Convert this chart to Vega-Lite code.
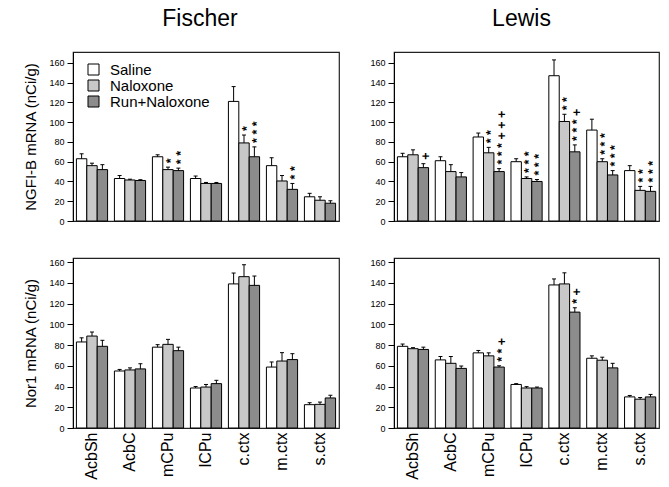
{
  "$schema": "https://vega.github.io/schema/vega-lite/v6.json",
  "padding": {"left": 23, "top": 7, "right": 5, "bottom": 0},
  "background": "white",
  "config": {
    "font": "Liberation Sans",
    "view": {"stroke": "#222222", "strokeWidth": 1.2},
    "title": {"fontSize": 23, "fontWeight": "normal", "color": "black", "offset": 21, "anchor": "middle"},
    "axis": {"labelColor": "black", "titleColor": "black", "domainColor": "black", "tickColor": "black", "grid": false}
  },
  "datasets": {
    "all": [
      {"p":"FN","r":"AcbSh","g":"Saline","v":63,"e":68,"s":""},
      {"p":"FN","r":"AcbSh","g":"Naloxone","v":56,"e":58.5,"s":""},
      {"p":"FN","r":"AcbSh","g":"Run+Naloxone","v":52,"e":57,"s":""},
      {"p":"FN","r":"AcbC","g":"Saline","v":43,"e":46,"s":""},
      {"p":"FN","r":"AcbC","g":"Naloxone","v":41.5,"e":42.3,"s":""},
      {"p":"FN","r":"AcbC","g":"Run+Naloxone","v":41,"e":41.8,"s":""},
      {"p":"FN","r":"mCPu","g":"Saline","v":65,"e":67,"s":""},
      {"p":"FN","r":"mCPu","g":"Naloxone","v":52,"e":54.5,"s":"*"},
      {"p":"FN","r":"mCPu","g":"Run+Naloxone","v":51,"e":53.5,"s":"* *"},
      {"p":"FN","r":"lCPu","g":"Saline","v":43,"e":45.5,"s":""},
      {"p":"FN","r":"lCPu","g":"Naloxone","v":38,"e":39,"s":""},
      {"p":"FN","r":"lCPu","g":"Run+Naloxone","v":38,"e":39,"s":""},
      {"p":"FN","r":"c.ctx","g":"Saline","v":121,"e":136,"s":""},
      {"p":"FN","r":"c.ctx","g":"Naloxone","v":79,"e":87,"s":"*"},
      {"p":"FN","r":"c.ctx","g":"Run+Naloxone","v":65,"e":75,"s":"* * *"},
      {"p":"FN","r":"m.ctx","g":"Saline","v":56,"e":64,"s":""},
      {"p":"FN","r":"m.ctx","g":"Naloxone","v":40.5,"e":46,"s":""},
      {"p":"FN","r":"m.ctx","g":"Run+Naloxone","v":32,"e":38,"s":"* *"},
      {"p":"FN","r":"s.ctx","g":"Saline","v":24.5,"e":28,"s":""},
      {"p":"FN","r":"s.ctx","g":"Naloxone","v":21,"e":24.5,"s":""},
      {"p":"FN","r":"s.ctx","g":"Run+Naloxone","v":18,"e":20.5,"s":""},

      {"p":"LN","r":"AcbSh","g":"Saline","v":65,"e":68.5,"s":""},
      {"p":"LN","r":"AcbSh","g":"Naloxone","v":67,"e":72,"s":""},
      {"p":"LN","r":"AcbSh","g":"Run+Naloxone","v":54,"e":58,"s":"+"},
      {"p":"LN","r":"AcbC","g":"Saline","v":61,"e":65,"s":""},
      {"p":"LN","r":"AcbC","g":"Naloxone","v":50,"e":57,"s":""},
      {"p":"LN","r":"AcbC","g":"Run+Naloxone","v":44.6,"e":49,"s":""},
      {"p":"LN","r":"mCPu","g":"Saline","v":85,"e":89,"s":""},
      {"p":"LN","r":"mCPu","g":"Naloxone","v":69,"e":74.5,"s":"* *"},
      {"p":"LN","r":"mCPu","g":"Run+Naloxone","v":50,"e":53,"s":"* * * + + +"},
      {"p":"LN","r":"lCPu","g":"Saline","v":60,"e":63,"s":""},
      {"p":"LN","r":"lCPu","g":"Naloxone","v":43,"e":44.6,"s":"* * *"},
      {"p":"LN","r":"lCPu","g":"Run+Naloxone","v":40,"e":42,"s":"* * *"},
      {"p":"LN","r":"c.ctx","g":"Saline","v":147,"e":163,"s":""},
      {"p":"LN","r":"c.ctx","g":"Naloxone","v":100.7,"e":108,"s":"* *"},
      {"p":"LN","r":"c.ctx","g":"Run+Naloxone","v":70,"e":77,"s":"* * * +"},
      {"p":"LN","r":"m.ctx","g":"Saline","v":92,"e":103,"s":""},
      {"p":"LN","r":"m.ctx","g":"Naloxone","v":60,"e":63,"s":"* * *"},
      {"p":"LN","r":"m.ctx","g":"Run+Naloxone","v":46.6,"e":51,"s":"* * *"},
      {"p":"LN","r":"s.ctx","g":"Saline","v":51,"e":56,"s":""},
      {"p":"LN","r":"s.ctx","g":"Naloxone","v":31,"e":35,"s":"* *"},
      {"p":"LN","r":"s.ctx","g":"Run+Naloxone","v":30,"e":35,"s":"* * *"},

      {"p":"FR","r":"AcbSh","g":"Saline","v":83,"e":87,"s":""},
      {"p":"FR","r":"AcbSh","g":"Naloxone","v":88.7,"e":92.6,"s":""},
      {"p":"FR","r":"AcbSh","g":"Run+Naloxone","v":78.8,"e":84.6,"s":""},
      {"p":"FR","r":"AcbC","g":"Saline","v":55,"e":56.5,"s":""},
      {"p":"FR","r":"AcbC","g":"Naloxone","v":56,"e":58,"s":""},
      {"p":"FR","r":"AcbC","g":"Run+Naloxone","v":57,"e":62,"s":""},
      {"p":"FR","r":"mCPu","g":"Saline","v":78,"e":80.4,"s":""},
      {"p":"FR","r":"mCPu","g":"Naloxone","v":80.7,"e":85.5,"s":""},
      {"p":"FR","r":"mCPu","g":"Run+Naloxone","v":74.6,"e":78,"s":""},
      {"p":"FR","r":"lCPu","g":"Saline","v":38.6,"e":40,"s":""},
      {"p":"FR","r":"lCPu","g":"Naloxone","v":39.5,"e":42,"s":""},
      {"p":"FR","r":"lCPu","g":"Run+Naloxone","v":42.8,"e":46,"s":""},
      {"p":"FR","r":"c.ctx","g":"Saline","v":139,"e":149.5,"s":""},
      {"p":"FR","r":"c.ctx","g":"Naloxone","v":146,"e":157.5,"s":""},
      {"p":"FR","r":"c.ctx","g":"Run+Naloxone","v":137.6,"e":146.6,"s":""},
      {"p":"FR","r":"m.ctx","g":"Saline","v":58.8,"e":63.7,"s":""},
      {"p":"FR","r":"m.ctx","g":"Naloxone","v":64.6,"e":72.7,"s":""},
      {"p":"FR","r":"m.ctx","g":"Run+Naloxone","v":66,"e":71.7,"s":""},
      {"p":"FR","r":"s.ctx","g":"Saline","v":22.5,"e":24.4,"s":""},
      {"p":"FR","r":"s.ctx","g":"Naloxone","v":22.8,"e":25,"s":""},
      {"p":"FR","r":"s.ctx","g":"Run+Naloxone","v":29,"e":31.5,"s":""},

      {"p":"LR","r":"AcbSh","g":"Saline","v":78.8,"e":81,"s":""},
      {"p":"LR","r":"AcbSh","g":"Naloxone","v":76.5,"e":77.5,"s":""},
      {"p":"LR","r":"AcbSh","g":"Run+Naloxone","v":75.8,"e":78,"s":""},
      {"p":"LR","r":"AcbC","g":"Saline","v":65.7,"e":69,"s":""},
      {"p":"LR","r":"AcbC","g":"Naloxone","v":62.4,"e":69,"s":""},
      {"p":"LR","r":"AcbC","g":"Run+Naloxone","v":57.5,"e":59.8,"s":""},
      {"p":"LR","r":"mCPu","g":"Saline","v":72.5,"e":74.8,"s":""},
      {"p":"LR","r":"mCPu","g":"Naloxone","v":69.6,"e":72.5,"s":""},
      {"p":"LR","r":"mCPu","g":"Run+Naloxone","v":58.8,"e":60,"s":"* * +"},
      {"p":"LR","r":"lCPu","g":"Saline","v":42,"e":42.8,"s":""},
      {"p":"LR","r":"lCPu","g":"Naloxone","v":38.6,"e":39.9,"s":""},
      {"p":"LR","r":"lCPu","g":"Run+Naloxone","v":38.6,"e":39.5,"s":""},
      {"p":"LR","r":"c.ctx","g":"Saline","v":138,"e":143.8,"s":""},
      {"p":"LR","r":"c.ctx","g":"Naloxone","v":139,"e":149.7,"s":""},
      {"p":"LR","r":"c.ctx","g":"Run+Naloxone","v":111.8,"e":116,"s":"* +"},
      {"p":"LR","r":"m.ctx","g":"Saline","v":67.3,"e":69.6,"s":""},
      {"p":"LR","r":"m.ctx","g":"Naloxone","v":65.4,"e":68.3,"s":""},
      {"p":"LR","r":"m.ctx","g":"Run+Naloxone","v":58,"e":62.4,"s":""},
      {"p":"LR","r":"s.ctx","g":"Saline","v":30,"e":31.4,"s":""},
      {"p":"LR","r":"s.ctx","g":"Naloxone","v":27.8,"e":29.4,"s":""},
      {"p":"LR","r":"s.ctx","g":"Run+Naloxone","v":30,"e":32.4,"s":""}
    ]
  },
  "spacing": 30,
  "resolve": {"scale": {"color": "independent", "y": "independent", "x": "independent"}, "legend": {"color": "independent"}},
  "vconcat": [
    {
      "hconcat": [
        {
          "width": 266, "height": 169,
          "title": {"text": "Fischer", "dx": -6},
          "data": {"name": "all"},
          "transform": [{"filter": "datum.p === 'FN'"}],
          "encoding": {
            "x": {"field": "r", "type": "nominal", "sort": ["AcbSh","AcbC","mCPu","lCPu","c.ctx","m.ctx","s.ctx"], "scale": {"paddingInner": 0.18, "paddingOuter": 0.09}, "axis": null},
            "xOffset": {"field": "g", "type": "nominal", "sort": ["Saline","Naloxone","Run+Naloxone"], "scale": {"paddingInner": 0, "paddingOuter": 0}},
            "y": {"field": "v", "type": "quantitative", "scale": {"domain": [0, 171], "nice": false, "zero": true},
                  "axis": {"values": [0,20,40,60,80,100,120,140,160], "tickSize": 6, "labelPadding": 3, "labelFontSize": 9, "title": "NGFI-B mRNA (nCi/g)", "titleFontSize": 15, "titleFontWeight": "normal", "titlePadding": 10}}
          },
          "layer": [
            {"mark": {"type": "bar", "stroke": "black", "strokeWidth": 1},
             "encoding": {"color": {"field": "g", "type": "nominal", "scale": {"domain": ["Saline","Naloxone","Run+Naloxone"], "range": ["#ffffff","#c8c8c8","#8c8c8c"]},
               "legend": {"orient": "none", "legendX": 13, "legendY": 10, "title": null, "symbolType": "square", "symbolSize": 121, "symbolStrokeColor": "black", "symbolStrokeWidth": 1, "symbolOpacity": 1, "labelFontSize": 15, "labelColor": "black", "labelOffset": 9, "rowPadding": -2}}}},
            {"mark": {"type": "rule", "color": "black", "strokeWidth": 1}, "encoding": {"y2": {"field": "e"}}},
            {"mark": {"type": "tick", "orient": "horizontal", "size": 4, "thickness": 1, "color": "black", "opacity": 1}, "encoding": {"y": {"field": "e", "type": "quantitative"}}},
            {"mark": {"type": "text", "angle": 270, "align": "left", "baseline": "middle", "dx": 4, "dy": 2.5, "fontSize": 12.5, "fontWeight": "bold", "color": "black"}, "encoding": {"y": {"field": "e", "type": "quantitative"}, "text": {"field": "s"}}}
          ]
        },
        {
          "width": 265, "height": 169,
          "title": {"text": "Lewis", "dx": -5},
          "data": {"name": "all"},
          "transform": [{"filter": "datum.p === 'LN'"}],
          "encoding": {
            "x": {"field": "r", "type": "nominal", "sort": ["AcbSh","AcbC","mCPu","lCPu","c.ctx","m.ctx","s.ctx"], "scale": {"paddingInner": 0.18, "paddingOuter": 0.09}, "axis": null},
            "xOffset": {"field": "g", "type": "nominal", "sort": ["Saline","Naloxone","Run+Naloxone"], "scale": {"paddingInner": 0, "paddingOuter": 0}},
            "y": {"field": "v", "type": "quantitative", "scale": {"domain": [0, 171], "nice": false, "zero": true},
                  "axis": {"values": [0,20,40,60,80,100,120,140,160], "tickSize": 6, "labelPadding": 3, "labelFontSize": 9, "title": null}}
          },
          "layer": [
            {"mark": {"type": "bar", "stroke": "black", "strokeWidth": 1},
             "encoding": {"color": {"field": "g", "type": "nominal", "scale": {"domain": ["Saline","Naloxone","Run+Naloxone"], "range": ["#ffffff","#c8c8c8","#8c8c8c"]}, "legend": null}}},
            {"mark": {"type": "rule", "color": "black", "strokeWidth": 1}, "encoding": {"y2": {"field": "e"}}},
            {"mark": {"type": "tick", "orient": "horizontal", "size": 4, "thickness": 1, "color": "black", "opacity": 1}, "encoding": {"y": {"field": "e", "type": "quantitative"}}},
            {"mark": {"type": "text", "angle": 270, "align": "left", "baseline": "middle", "dx": 4, "dy": 2.5, "fontSize": 12.5, "fontWeight": "bold", "color": "black"}, "encoding": {"y": {"field": "e", "type": "quantitative"}, "text": {"field": "s"}}}
          ]
        }
      ],
      "spacing": 29,
      "resolve": {"scale": {"color": "independent", "y": "independent", "x": "independent"}, "legend": {"color": "independent"}}
    },
    {
      "hconcat": [
        {
          "width": 266, "height": 170,
          "data": {"name": "all"},
          "transform": [{"filter": "datum.p === 'FR'"}],
          "encoding": {
            "x": {"field": "r", "type": "nominal", "sort": ["AcbSh","AcbC","mCPu","lCPu","c.ctx","m.ctx","s.ctx"], "scale": {"paddingInner": 0.18, "paddingOuter": 0.09},
                  "axis": {"title": null, "labelAngle": -90, "labelFontSize": 16, "ticks": false, "domain": false, "labelPadding": 4}},
            "xOffset": {"field": "g", "type": "nominal", "sort": ["Saline","Naloxone","Run+Naloxone"], "scale": {"paddingInner": 0, "paddingOuter": 0}},
            "y": {"field": "v", "type": "quantitative", "scale": {"domain": [0, 164], "nice": false, "zero": true},
                  "axis": {"values": [0,20,40,60,80,100,120,140,160], "tickSize": 6, "labelPadding": 3, "labelFontSize": 9, "title": "Nor1 mRNA (nCi/g)", "titleFontSize": 15, "titleFontWeight": "normal", "titlePadding": 10}}
          },
          "layer": [
            {"mark": {"type": "bar", "stroke": "black", "strokeWidth": 1},
             "encoding": {"color": {"field": "g", "type": "nominal", "scale": {"domain": ["Saline","Naloxone","Run+Naloxone"], "range": ["#ffffff","#c8c8c8","#8c8c8c"]}, "legend": null}}},
            {"mark": {"type": "rule", "color": "black", "strokeWidth": 1}, "encoding": {"y2": {"field": "e"}}},
            {"mark": {"type": "tick", "orient": "horizontal", "size": 4, "thickness": 1, "color": "black", "opacity": 1}, "encoding": {"y": {"field": "e", "type": "quantitative"}}},
            {"mark": {"type": "text", "angle": 270, "align": "left", "baseline": "middle", "dx": 4, "dy": 2.5, "fontSize": 12.5, "fontWeight": "bold", "color": "black"}, "encoding": {"y": {"field": "e", "type": "quantitative"}, "text": {"field": "s"}}}
          ]
        },
        {
          "width": 265, "height": 170,
          "data": {"name": "all"},
          "transform": [{"filter": "datum.p === 'LR'"}],
          "encoding": {
            "x": {"field": "r", "type": "nominal", "sort": ["AcbSh","AcbC","mCPu","lCPu","c.ctx","m.ctx","s.ctx"], "scale": {"paddingInner": 0.18, "paddingOuter": 0.09},
                  "axis": {"title": null, "labelAngle": -90, "labelFontSize": 16, "ticks": false, "domain": false, "labelPadding": 4}},
            "xOffset": {"field": "g", "type": "nominal", "sort": ["Saline","Naloxone","Run+Naloxone"], "scale": {"paddingInner": 0, "paddingOuter": 0}},
            "y": {"field": "v", "type": "quantitative", "scale": {"domain": [0, 164], "nice": false, "zero": true},
                  "axis": {"values": [0,20,40,60,80,100,120,140,160], "tickSize": 6, "labelPadding": 3, "labelFontSize": 9, "title": null}}
          },
          "layer": [
            {"mark": {"type": "bar", "stroke": "black", "strokeWidth": 1},
             "encoding": {"color": {"field": "g", "type": "nominal", "scale": {"domain": ["Saline","Naloxone","Run+Naloxone"], "range": ["#ffffff","#c8c8c8","#8c8c8c"]}, "legend": null}}},
            {"mark": {"type": "rule", "color": "black", "strokeWidth": 1}, "encoding": {"y2": {"field": "e"}}},
            {"mark": {"type": "tick", "orient": "horizontal", "size": 4, "thickness": 1, "color": "black", "opacity": 1}, "encoding": {"y": {"field": "e", "type": "quantitative"}}},
            {"mark": {"type": "text", "angle": 270, "align": "left", "baseline": "middle", "dx": 4, "dy": 2.5, "fontSize": 12.5, "fontWeight": "bold", "color": "black"}, "encoding": {"y": {"field": "e", "type": "quantitative"}, "text": {"field": "s"}}}
          ]
        }
      ],
      "spacing": 29,
      "resolve": {"scale": {"color": "independent", "y": "independent", "x": "independent"}, "legend": {"color": "independent"}}
    }
  ]
}
